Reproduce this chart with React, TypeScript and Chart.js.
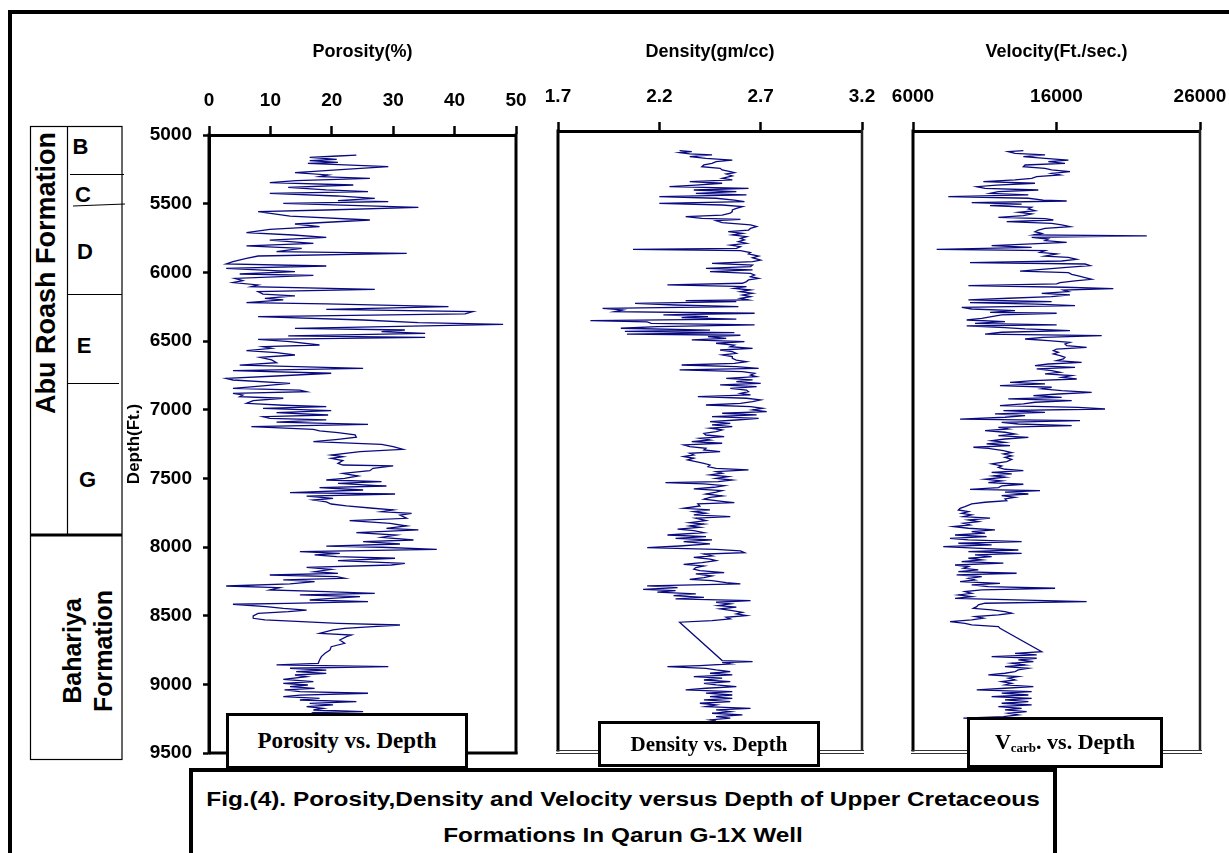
import React, { useEffect, useRef } from 'react';
import { Chart, registerables } from 'chart.js';

Chart.register(...registerables);

const SANS = "'Liberation Sans', Arial, Helvetica, sans-serif";
const SERIF = "'Liberation Serif', 'Times New Roman', Times, serif";

// ---------- axis ticks ----------
const depthTicks = [5000, 5500, 6000, 6500, 7000, 7500, 8000, 8500, 9000, 9500];
const porosityTicks = [0, 10, 20, 30, 40, 50];
const densityTicks = [1.7, 2.2, 2.7, 3.2];
const velocityTicks = [6000, 16000, 26000];

// ---------- porosity log (%) ----------
const porosityDepth = [
  5146, 5153, 5163, 5177, 5187, 5199, 5206, 5231, 5250, 5274,
  5291, 5303, 5316, 5332, 5347, 5364, 5381, 5400, 5413, 5425,
  5444, 5461, 5478, 5485, 5498, 5527, 5546, 5558, 5590, 5619,
  5648, 5667, 5687, 5711, 5728, 5745, 5765, 5789, 5808, 5825,
  5849, 5862, 5881, 5898, 5922, 5939, 5954, 5971, 5995, 6012,
  6022, 6044, 6061, 6075, 6092, 6104, 6124, 6141, 6158, 6172,
  6189, 6201, 6221, 6230, 6250, 6269, 6286, 6303, 6323, 6347,
  6366, 6379, 6408, 6420, 6432, 6444, 6463, 6473, 6488, 6505,
  6529, 6541, 6553, 6570, 6585, 6602, 6619, 6638, 6658, 6675,
  6699, 6716, 6735, 6755, 6772, 6784, 6808, 6828, 6845, 6857,
  6869, 6881, 6893, 6905, 6917, 6934, 6954, 6968, 6978, 6990,
  7007, 7022, 7039, 7051, 7063, 7075, 7090, 7107, 7124, 7143,
  7155, 7167, 7184, 7201, 7216, 7233, 7252, 7269, 7289, 7306,
  7330, 7342, 7354, 7371, 7391, 7403, 7410, 7427, 7444, 7464,
  7483, 7500, 7512, 7524, 7536, 7556, 7568, 7585, 7604, 7614,
  7629, 7646, 7658, 7672, 7687, 7701, 7718, 7730, 7743, 7755,
  7767, 7791, 7808, 7828, 7847, 7864, 7876, 7896, 7913, 7930,
  7949, 7961, 7978, 7993, 8002, 8017, 8034, 8046, 8058, 8070,
  8082, 8099, 8119, 8131, 8148, 8163, 8180, 8192, 8204, 8216,
  8228, 8240, 8252, 8269, 8284, 8296, 8313, 8325, 8337, 8349,
  8362, 8374, 8386, 8398, 8410, 8417, 8434, 8447, 8459, 8471,
  8483, 8502, 8519, 8531, 8544, 8556, 8568, 8580, 8592, 8604,
  8616, 8629, 8641, 8653, 8677, 8701, 8726, 8750, 8774, 8798,
  8823, 8847, 8859, 8871, 8883, 8896, 8908, 8920, 8932, 8944,
  8964, 8980, 8993, 9005, 9017, 9029, 9041, 9053, 9065, 9078,
  9090, 9102, 9114, 9126, 9138, 9150, 9163, 9175, 9187, 9199,
  9206, 9230, 9250,
];
const porosityValue = [
  24.0, 21.0, 16.4, 20.8, 16.4, 21.0, 16.1, 29.2, 22.1, 14.0,
  19.4, 18.0, 26.2, 14.2, 9.9, 23.5, 12.9, 19.1, 25.9, 9.9,
  20.8, 27.0, 21.0, 29.2, 12.1, 34.1, 19.1, 8.0, 13.2, 26.2,
  14.0, 18.0, 9.9, 6.1, 13.7, 19.1, 9.9, 17.0, 6.1, 15.1,
  11.0, 32.2, 8.0, 6.1, 3.9, 2.8, 19.1, 2.8, 14.0, 5.0,
  17.0, 4.2, 5.5, 3.9, 8.0, 6.9, 27.0, 8.0, 8.8, 14.0,
  9.1, 12.1, 6.1, 19.1, 39.0, 19.1, 43.0, 41.7, 8.0, 25.1,
  34.1, 47.9, 14.0, 31.9, 28.1, 35.2, 12.9, 35.2, 8.0, 13.2,
  18.0, 8.8, 10.2, 6.1, 11.0, 14.0, 8.3, 10.2, 11.0, 5.0,
  25.1, 3.9, 19.9, 11.0, 2.8, 3.9, 13.2, 8.3, 3.9, 14.8,
  15.9, 3.9, 5.5, 5.0, 12.1, 7.2, 6.1, 12.1, 19.1, 8.8,
  19.9, 11.0, 19.4, 8.8, 9.9, 19.1, 11.0, 25.9, 6.9, 17.0,
  18.0, 21.0, 23.8, 24.0, 21.0, 17.0, 28.1, 30.0, 31.6, 24.6,
  19.9, 21.8, 19.9, 21.8, 21.0, 21.8, 30.0, 26.7, 26.2, 21.8,
  24.3, 22.1, 19.1, 28.1, 21.0, 28.9, 18.0, 25.1, 13.2, 30.3,
  15.9, 20.2, 17.0, 19.1, 19.9, 22.4, 26.7, 30.0, 28.1, 33.0,
  31.1, 32.2, 22.9, 29.5, 32.2, 28.9, 34.1, 24.0, 30.5, 28.1,
  33.3, 25.1, 31.1, 19.1, 28.1, 37.1, 14.8, 21.3, 17.2, 20.8,
  30.3, 21.0, 31.9, 29.7, 15.9, 19.9, 17.2, 21.0, 9.9, 20.8,
  22.1, 12.1, 17.2, 13.2, 2.8, 11.5, 9.9, 19.1, 27.0, 14.8,
  24.6, 19.9, 16.4, 25.9, 12.9, 3.9, 9.3, 12.1, 15.9, 12.9,
  8.0, 7.2, 7.2, 9.1, 15.1, 21.0, 31.1, 26.7, 22.1, 20.2,
  19.1, 18.0, 23.2, 22.4, 21.3, 22.1, 19.9, 19.7, 18.9, 18.3,
  18.0, 17.8, 11.0, 29.2, 13.2, 19.1, 14.2, 19.1, 14.0, 15.9,
  12.1, 17.0, 12.1, 16.1, 13.2, 17.2, 12.3, 14.8, 25.9, 14.8,
  12.1, 18.0, 14.8, 24.0, 16.4, 20.2, 15.9, 18.6, 17.0, 25.1,
  17.0, 18.0, 20.0,
];

// ---------- bulk density log (gm/cc) ----------
const densityDepth = [
  5143, 5150, 5157, 5167, 5174, 5187, 5199, 5211, 5223, 5235,
  5247, 5259, 5271, 5283, 5296, 5303, 5313, 5327, 5344, 5356,
  5368, 5380, 5393, 5405, 5417, 5429, 5441, 5453, 5465, 5477,
  5489, 5502, 5514, 5526, 5538, 5550, 5562, 5574, 5586, 5598,
  5611, 5623, 5635, 5642, 5652, 5666, 5683, 5695, 5708, 5720,
  5732, 5744, 5756, 5768, 5780, 5792, 5804, 5817, 5829, 5841,
  5853, 5860, 5870, 5884, 5894, 5909, 5921, 5938, 5950, 5962,
  5974, 5986, 5998, 6010, 6023, 6035, 6047, 6059, 6071, 6083,
  6095, 6107, 6119, 6132, 6144, 6156, 6168, 6180, 6192, 6204,
  6216, 6228, 6233, 6241, 6253, 6265, 6277, 6289, 6301, 6313,
  6325, 6337, 6350, 6357, 6367, 6379, 6388, 6398, 6410, 6422,
  6434, 6447, 6456, 6466, 6476, 6485, 6495, 6507, 6519, 6531,
  6543, 6556, 6568, 6580, 6592, 6604, 6616, 6628, 6640, 6653,
  6665, 6677, 6689, 6701, 6713, 6725, 6737, 6749, 6762, 6774,
  6786, 6798, 6810, 6822, 6834, 6846, 6858, 6871, 6883, 6895,
  6907, 6919, 6931, 6943, 6955, 6968, 6980, 6992, 7004, 7016,
  7028, 7040, 7052, 7064, 7077, 7089, 7101, 7113, 7125, 7137,
  7149, 7161, 7173, 7186, 7198, 7210, 7222, 7234, 7246, 7258,
  7270, 7282, 7295, 7307,
  7319, 7331, 7343, 7355, 7367, 7379, 7391, 7403, 7416, 7428,
  7440, 7452, 7464, 7476, 7488, 7500, 7513, 7525, 7537, 7549,
  7556, 7566, 7578, 7590, 7602, 7614, 7626, 7639, 7653, 7663,
  7677, 7694, 7701, 7711, 7726, 7743, 7755, 7767, 7779, 7791,
  7803, 7815, 7832, 7847, 7857, 7871, 7881, 7895, 7905, 7920,
  7937, 7949, 7961, 7973, 7985, 8002, 8017, 8029, 8041, 8053,
  8065, 8075, 8089, 8099, 8113, 8123, 8138, 8150, 8162, 8174,
  8186, 8196, 8210, 8220, 8235, 8247, 8259, 8269, 8283, 8293,
  8307, 8319, 8332, 8341, 8353, 8365, 8378, 8390, 8402, 8414,
  8426, 8438, 8450, 8462, 8474, 8487, 8499, 8511, 8523, 8535,
  8547, 8559, 8571, 8850, 8857, 8865, 8874, 8886, 8894, 8906,
  8918, 8930, 8942, 8954, 8966, 8978, 8991, 9003, 9015, 9027,
  9039, 9051, 9063, 9075, 9087, 9100, 9112, 9124, 9136, 9148,
  9160, 9172, 9184, 9197, 9209, 9221, 9233, 9245, 9257, 9269,
  9281, 9289,
];
const densityValue = [
  2.30, 2.36, 2.30, 2.35, 2.46, 2.35, 2.43, 2.56, 2.48, 2.46,
  2.42, 2.41, 2.50, 2.51, 2.55, 2.57, 2.53, 2.56, 2.51, 2.56,
  2.35, 2.51, 2.38, 2.25, 2.64, 2.37, 2.58, 2.38, 2.63, 2.20,
  2.48, 2.57, 2.62, 2.20, 2.51, 2.61, 2.58, 2.56, 2.56, 2.55,
  2.51, 2.33, 2.41, 2.60, 2.48, 2.51, 2.65, 2.68, 2.65, 2.64,
  2.54, 2.61, 2.56, 2.63, 2.60, 2.62, 2.59, 2.63, 2.55, 2.60,
  2.58, 2.07, 2.60, 2.65, 2.64, 2.69, 2.66, 2.70, 2.66, 2.46,
  2.66, 2.65, 2.43, 2.66, 2.45, 2.65, 2.67, 2.65, 2.69, 2.64,
  2.63, 2.61, 2.24, 2.63, 2.57, 2.65, 2.60, 2.66, 2.61, 2.65,
  2.60, 2.64, 2.33, 2.58, 2.08, 2.28, 2.59, 1.92, 2.02, 1.98,
  2.67, 2.22, 2.44, 2.31, 2.58, 1.86, 2.14, 2.16, 2.67, 2.19,
  2.01, 2.45, 2.03, 2.57, 2.04, 2.60, 2.44, 2.53, 2.36, 2.62,
  2.48, 2.57, 2.55, 2.66, 2.50, 2.56, 2.58, 2.51, 2.56, 2.56,
  2.58, 2.63, 2.57, 2.31, 2.58, 2.69, 2.30, 2.61, 2.67, 2.65,
  2.68, 2.53, 2.66, 2.58, 2.70, 2.50, 2.68, 2.55, 2.63, 2.64,
  2.60, 2.65, 2.39, 2.63, 2.70, 2.66, 2.60, 2.43, 2.65, 2.71,
  2.66, 2.73, 2.51, 2.68, 2.46, 2.69, 2.58, 2.45, 2.55, 2.46,
  2.56, 2.45, 2.51, 2.48, 2.42, 2.43, 2.52, 2.40, 2.45, 2.36,
  2.51, 2.32, 2.35, 2.43,
  2.42, 2.50, 2.35, 2.37, 2.32, 2.37, 2.34, 2.38, 2.42, 2.45,
  2.44, 2.48, 2.64, 2.48, 2.51, 2.45, 2.54, 2.48, 2.56, 2.49,
  2.23, 2.42, 2.52, 2.47, 2.37, 2.51, 2.48, 2.43, 2.51, 2.45,
  2.42, 2.52, 2.57, 2.39, 2.40, 2.32, 2.45, 2.37, 2.43, 2.37,
  2.55, 2.38, 2.43, 2.35, 2.42, 2.35, 2.40, 2.29, 2.37, 2.42,
  2.24, 2.43, 2.28, 2.46, 2.32, 2.45, 2.30, 2.14, 2.48, 2.60,
  2.62, 2.42, 2.46, 2.37, 2.45, 2.48, 2.41, 2.32, 2.42, 2.38,
  2.37, 2.40, 2.52, 2.38, 2.46, 2.42, 2.35, 2.46, 2.53, 2.60,
  2.14, 2.29, 2.12, 2.28, 2.19, 2.38, 2.27, 2.42, 2.28, 2.65,
  2.48, 2.55, 2.49, 2.58, 2.50, 2.56, 2.61, 2.58, 2.63, 2.53,
  2.55, 2.46, 2.30, 2.51, 2.66, 2.51, 2.55, 2.40, 2.24, 2.43,
  2.48, 2.55, 2.45, 2.56, 2.37, 2.51, 2.42, 2.55, 2.42, 2.48,
  2.58, 2.43, 2.33, 2.56, 2.43, 2.56, 2.45, 2.56, 2.42, 2.55,
  2.40, 2.48, 2.43, 2.65, 2.48, 2.55, 2.46, 2.61, 2.48, 2.55,
  2.45, 2.48,
];

// ---------- carbonate velocity log (ft/sec) ----------
const velocityDepth = [
  5143, 5150, 5162, 5174, 5187, 5199, 5211, 5223, 5235, 5247,
  5259, 5271, 5283, 5296, 5308, 5320, 5332, 5344, 5356, 5368,
  5380, 5393, 5405, 5417, 5429, 5441, 5453, 5465, 5477, 5489,
  5502, 5509, 5521, 5531, 5543, 5555, 5567, 5579, 5591, 5603,
  5615, 5628, 5637, 5647, 5659, 5671, 5683, 5695, 5708, 5720,
  5732, 5744, 5756, 5763, 5773, 5785, 5797, 5809, 5821, 5834,
  5846, 5860, 5870, 5882, 5894, 5909, 5918, 5933, 5945, 5957,
  5967, 5979, 5991, 6006, 6018, 6030, 6042, 6054, 6066, 6078,
  6090, 6102, 6112, 6124, 6136, 6146, 6156, 6168, 6180, 6192,
  6204, 6216, 6228, 6241, 6248, 6258, 6270, 6282, 6294, 6306,
  6318, 6325, 6337, 6350, 6362, 6374, 6386, 6398, 6410, 6417,
  6430, 6439, 6451, 6463, 6476, 6488, 6500, 6512, 6524, 6536,
  6548, 6560, 6573, 6585, 6597, 6609, 6621, 6633, 6645, 6657,
  6669, 6682, 6694, 6706, 6718, 6730, 6742, 6754, 6766, 6778,
  6791, 6803, 6815, 6827, 6839, 6851, 6863, 6875, 6888, 6900,
  6912, 6924, 6936, 6948, 6960, 6972, 6984, 6997, 7009, 7021,
  7033, 7045, 7057, 7069, 7081, 7094, 7106, 7118, 7130, 7142,
  7154, 7166, 7178, 7190, 7203, 7215, 7227, 7239, 7251, 7263,
  7275, 7287, 7299, 7307,
  7324, 7338, 7348, 7362, 7372, 7387, 7403, 7420, 7435, 7445,
  7459, 7469, 7481, 7493, 7508, 7517, 7532, 7544, 7556, 7568,
  7580, 7592, 7605, 7614, 7626, 7639, 7651, 7663, 7675, 7687,
  7699, 7711, 7731, 7743, 7755, 7767, 7779, 7791, 7803, 7815,
  7828, 7840, 7852, 7864, 7876, 7888, 7900, 7912, 7924, 7937,
  7949, 7961, 7973, 7985, 7997, 8009, 8021, 8033, 8046, 8058,
  8070, 8082, 8094, 8106, 8118, 8130, 8142, 8155, 8167, 8179,
  8191, 8203, 8215, 8227, 8239, 8252, 8264, 8276, 8288, 8300,
  8312, 8324, 8336, 8348, 8361, 8373, 8385, 8397, 8409, 8421,
  8433, 8445, 8458, 8470, 8482, 8494, 8506, 8518, 8530, 8542,
  8554, 8567, 8579, 8591, 8603, 8615, 8785, 8797, 8809, 8821,
  8833, 8845, 8857, 8869, 8882, 8894, 8906, 8918, 8930, 8942,
  8954, 8966, 8978, 8991, 9003, 9015, 9027, 9039, 9051, 9063,
  9075, 9087, 9100, 9112, 9124, 9136, 9148, 9160, 9172, 9184,
  9197, 9209, 9221, 9233, 9245, 9257, 9269, 9276,
];
const velocityValue = [
  13690, 12640, 13110, 15200, 13690, 15200, 16830, 15430, 16590, 13810,
  13690, 15200, 15660, 16940, 15660, 16250, 14620, 14270, 13110, 10900,
  14500, 11830, 10440, 11020, 14730, 11950, 11370, 14040, 8460, 14040,
  15080, 16710, 10090, 13570, 11370, 14270, 14040, 14500, 13340, 14270,
  13690, 11950, 15200, 15780, 12530, 15660, 16360, 16940, 15200, 14730,
  14500, 14970, 14390, 22290, 14270, 15430, 15200, 16710, 14270, 11480,
  14270, 7650, 15200, 14850, 16010, 15200, 16830, 17410, 16360, 9970,
  17990, 18340, 16710, 14970, 13460, 16830, 17060, 17520, 17990, 18450,
  17290, 16250, 16010, 9860, 16590, 19960, 16480, 16830, 14970, 16940,
  15660, 12640, 9860, 15660, 9970, 14620, 17290, 9400, 10090, 13110,
  11370, 16010, 12180, 11480, 10790, 9740, 12410, 10320, 16010, 9740,
  12410, 13810, 16940, 12180, 11020, 19150, 15080, 13810, 15430, 16940,
  16590, 16710, 18100, 16010, 15780, 16130, 15780, 16250, 16590, 16480,
  16010, 17750, 15430, 14500, 17290, 14620, 15660, 16250, 15200, 17060,
  16360, 17410, 14390, 12760, 15200, 12060, 15660, 14970, 16360, 18450,
  16130, 14390, 16360, 12640, 17060, 14500, 13690, 12060, 17520, 19380,
  12300, 15200, 11710, 13810, 12410, 9280, 17640, 12180, 13340, 17060,
  11950, 12640, 11020, 12410, 13110, 11950, 14040, 12410, 11480, 12410,
  11130, 12760, 10210, 11250,
  12300, 12880, 12300, 12880, 12410, 12880, 12530, 11480, 12180, 11950,
  12410, 13690, 11480, 12880, 11600, 12410, 11020, 12180, 11250, 13690,
  12180, 11950, 9970, 14850, 12410, 14040, 12180, 13110, 12410, 12530,
  11020, 10090, 9620, 9280, 9160, 9860, 9390, 10090, 9510, 11370,
  9860, 10550, 9510, 9970, 8810, 9860, 11710, 10090, 11020, 8930,
  11130, 8580, 9860, 13570, 9160, 11480, 8110, 10320, 13340, 9860,
  13570, 10320, 11480, 9860, 10790, 9390, 12300, 8930, 9860, 9510,
  10550, 9160, 13220, 9040, 10790, 9860, 10320, 9280, 12060, 10090,
  11250, 15900, 10790, 9620, 10090, 9160, 10090, 8930, 13110, 18100,
  11020, 10550, 10440, 10200, 11480, 12410, 12880, 11950, 10320, 10900,
  10090, 8580, 9620, 10090, 11950, 12060, 14970, 13110, 14620, 11480,
  14620, 13340, 14390, 12880, 13810, 12410, 14040, 13340, 13110, 12410,
  11250, 13340, 12640, 13110, 12180, 12880, 12410, 14390, 12410, 10440,
  14270, 12180, 14040, 11480, 14270, 12410, 14040, 12180, 14270, 11950,
  13570, 12410, 13920, 12640, 13340, 12300, 9510, 12410,
];

// ---------- chart frame plugin ----------
const framePlugin = {
  id: 'logFrame',
  afterDraw(chart: any, _args: any, opts: any) {
    const { ctx, chartArea: a } = chart;
    ctx.save();
    ctx.lineCap = 'butt';
    ctx.strokeStyle = '#000';
    ctx.lineWidth = 3;
    ctx.beginPath();
    ctx.moveTo(a.left, a.top - 1.5);
    ctx.lineTo(a.left, a.bottom + 1.5);
    ctx.stroke();
    ctx.strokeStyle = opts.rightColor || '#000';
    ctx.lineWidth = opts.rightWidth || 3;
    ctx.beginPath();
    ctx.moveTo(a.right, a.top - 1.5);
    ctx.lineTo(a.right, a.bottom + 1);
    ctx.stroke();
    if (opts.bottom === 'solid') {
      ctx.strokeStyle = '#000';
      ctx.lineWidth = 3;
      ctx.beginPath();
      ctx.moveTo(a.left, a.bottom);
      ctx.lineTo(a.right + 1.5, a.bottom);
      ctx.stroke();
    } else {
      ctx.strokeStyle = '#333';
      ctx.lineWidth = 1;
      ctx.beginPath();
      ctx.moveTo(a.left - 2, a.bottom + 0.5);
      ctx.lineTo(a.right + 2, a.bottom + 0.5);
      ctx.moveTo(a.left - 2, a.bottom + 3.5);
      ctx.lineTo(a.right + 2, a.bottom + 3.5);
      ctx.stroke();
    }
    ctx.restore();
  },
};

type Box = { left: number; top: number; width: number; height: number };
type Area = { left: number; top: number; right: number; bottom: number };

type PanelProps = {
  depth: number[];
  values: number[];
  xMin: number;
  xMax: number;
  xTicks: number[];
  fmt: (v: number) => string;
  title: string;
  box: Box;
  area: Area;
  depthAxis: boolean;
  bottom: 'solid' | 'double';
  rightColor?: string;
  rightWidth?: number;
};

function LogPanel(p: PanelProps) {
  const ref = useRef<HTMLCanvasElement | null>(null);
  useEffect(() => {
    if (!ref.current) return;
    const points = p.depth.map((d, i) => ({ x: p.values[i], y: d }));
    const xScaleHeight = p.area.top - p.box.top;
    const yScaleWidth = p.area.left - p.box.left;
    const padLeft = p.depthAxis ? 0 : yScaleWidth;
    const padRight = p.box.left + p.box.width - p.area.right;
    const padBottom = p.box.top + p.box.height - p.area.bottom;
    const yScale: any = {
      type: 'linear',
      reverse: true,
      min: 5000,
      max: 9500,
      display: p.depthAxis,
      afterBuildTicks: (s: any) => {
        s.ticks = depthTicks.map((v) => ({ value: v }));
      },
      ticks: {
        callback: (v: any) => String(v),
        color: '#000',
        font: { family: SANS, size: 19, weight: 'bold' },
        padding: 11,
        autoSkip: false,
      },
      grid: {
        drawOnChartArea: false,
        drawTicks: true,
        tickLength: 6,
        tickWidth: 2.5,
        color: '#000',
      },
      border: { display: true, width: 3, color: '#000' },
      title: {
        display: true,
        text: 'Depth(Ft.)',
        color: '#000',
        font: { family: SANS, size: 17, weight: 'bold' },
        padding: { top: 0, bottom: 0 },
      },
    };
    if (p.depthAxis) {
      yScale.afterFit = (s: any) => {
        s.width = yScaleWidth;
      };
    }
    const chart = new Chart(ref.current, {
      type: 'scatter',
      data: {
        datasets: [
          {
            data: points,
            showLine: true,
            borderColor: '#0a0a80',
            borderWidth: 1.3,
            pointRadius: 0,
            pointHoverRadius: 0,
            fill: false,
            tension: 0,
          },
        ],
      },
      options: {
        animation: false,
        responsive: false,
        maintainAspectRatio: false,
        devicePixelRatio: 1,
        events: [],
        layout: { padding: { left: padLeft, right: padRight, top: 0, bottom: padBottom } },
        plugins: {
          legend: { display: false },
          tooltip: { enabled: false },
          logFrame: { bottom: p.bottom, rightColor: p.rightColor, rightWidth: p.rightWidth },
        } as any,
        scales: {
          x: {
            type: 'linear',
            position: 'top',
            min: p.xMin,
            max: p.xMax,
            afterBuildTicks: (s: any) => {
              s.ticks = p.xTicks.map((v) => ({ value: v }));
            },
            afterFit: (s: any) => {
              s.height = xScaleHeight;
            },
            ticks: {
              callback: (v: any) => p.fmt(Number(v)),
              color: '#000',
              font: { family: SANS, size: 19, weight: 'bold' },
              padding: 14,
              maxRotation: 0,
              minRotation: 0,
              autoSkip: false,
            },
            grid: {
              drawOnChartArea: false,
              drawTicks: true,
              tickLength: 9,
              tickWidth: 2.5,
              color: '#000',
            },
            border: { display: true, width: 3, color: '#000' },
            title: {
              display: true,
              text: p.title,
              color: '#000',
              font: { family: SANS, size: 18, weight: 'bold' },
              padding: { top: 4, bottom: 0 },
            },
          },
          y: yScale,
        },
      } as any,
      plugins: [framePlugin as any],
    });
    return () => chart.destroy();
  }, []);
  return (
    <canvas
      ref={ref}
      width={p.box.width}
      height={p.box.height}
      style={{
        position: 'absolute',
        left: p.box.left,
        top: p.box.top,
        width: p.box.width,
        height: p.box.height,
      }}
    />
  );
}

const abs = (s: React.CSSProperties): React.CSSProperties => ({ position: 'absolute', ...s });

function Centered({ x, y, children, style }: { x: number; y: number; children: React.ReactNode; style?: React.CSSProperties }) {
  return (
    <div
      style={abs({
        left: x,
        top: y,
        transform: 'translate(-50%, -50%)',
        whiteSpace: 'nowrap',
        fontFamily: SANS,
        fontWeight: 'bold',
        color: '#000',
        lineHeight: 1,
        ...style,
      })}
    >
      {children}
    </div>
  );
}

function Rotated({ x, y, children, size, lineHeight }: { x: number; y: number; children: React.ReactNode; size: number; lineHeight?: number }) {
  return (
    <div
      style={abs({
        left: x,
        top: y,
        transform: 'translate(-50%, -50%) rotate(-90deg)',
        whiteSpace: 'nowrap',
        fontFamily: SANS,
        fontWeight: 'bold',
        fontSize: size,
        lineHeight: lineHeight ? `${lineHeight}px` : 1,
        textAlign: 'center',
        color: '#000',
      })}
    >
      {children}
    </div>
  );
}

function LabelBox({ left, top, width, height, children, size }: { left: number; top: number; width: number; height: number; children: React.ReactNode; size: number }) {
  return (
    <div
      style={abs({
        left,
        top,
        width,
        height,
        boxSizing: 'border-box',
        border: '3px solid #000',
        background: '#fff',
        display: 'flex',
        alignItems: 'center',
        justifyContent: 'center',
        fontFamily: SERIF,
        fontWeight: 'bold',
        fontSize: size,
        color: '#000',
        zIndex: 3,
        whiteSpace: 'nowrap',
      })}
    >
      {children}
    </div>
  );
}

export default function App() {
  return (
    <div
      style={{
        position: 'absolute',
        left: 0,
        top: 0,
        width: 1229,
        height: 853,
        overflow: 'hidden',
        background: '#fff',
      }}
    >
      {/* outer frame (left + top) */}
      <div style={abs({ left: 8, top: 10, width: 1240, height: 900, borderLeft: '4px solid #000', borderTop: '4px solid #000' })} />

      {/* formation column */}
      <svg width={140} height={780} style={abs({ left: 0, top: 0 })}>
        <rect x={30.5} y={126.5} width={91.5} height={633} fill="none" stroke="#000" strokeWidth={1.2} />
        <line x1={67.5} y1={126} x2={67.5} y2={534} stroke="#000" strokeWidth={1.2} />
        <line x1={70} y1={174.5} x2={124} y2={174.5} stroke="#000" strokeWidth={1.2} />
        <line x1={73} y1={206} x2={125} y2={204} stroke="#000" strokeWidth={1.2} />
        <line x1={68} y1={294.5} x2={122} y2={294.5} stroke="#000" strokeWidth={1.2} />
        <line x1={68} y1={383.5} x2={119} y2={383.5} stroke="#000" strokeWidth={1.2} />
        <line x1={30} y1={535} x2={122} y2={535} stroke="#000" strokeWidth={3} />
      </svg>
      <Centered x={80.5} y={147} style={{ fontSize: 22 }}>B</Centered>
      <Centered x={83} y={195} style={{ fontSize: 22 }}>C</Centered>
      <Centered x={85} y={252} style={{ fontSize: 22 }}>D</Centered>
      <Centered x={84} y={346} style={{ fontSize: 22 }}>E</Centered>
      <Centered x={87.5} y={480} style={{ fontSize: 22 }}>G</Centered>
      <Rotated x={46} y={273} size={27}>Abu Roash Formation</Rotated>
      <Rotated x={88} y={651} size={25} lineHeight={31}>
        Bahariya
        <br />
        Formation
      </Rotated>

      {/* log panels */}
      <LogPanel
        depth={porosityDepth}
        values={porosityValue}
        xMin={0}
        xMax={50}
        xTicks={porosityTicks}
        fmt={(v) => String(v)}
        title="Porosity(%)"
        box={{ left: 124, top: 37, width: 422, height: 742 }}
        area={{ left: 209, top: 135, right: 516, bottom: 753 }}
        depthAxis={true}
        bottom="solid"
      />
      <LogPanel
        depth={densityDepth}
        values={densityValue}
        xMin={1.7}
        xMax={3.2}
        xTicks={densityTicks}
        fmt={(v) => v.toFixed(1)}
        title="Density(gm/cc)"
        box={{ left: 512, top: 37, width: 396, height: 730 }}
        area={{ left: 558, top: 131, right: 862, bottom: 750 }}
        depthAxis={false}
        bottom="double"
        rightColor="#222"
        rightWidth={2.5}
      />
      <LogPanel
        depth={velocityDepth}
        values={velocityValue}
        xMin={6000}
        xMax={26000}
        xTicks={velocityTicks}
        fmt={(v) => String(v)}
        title="Velocity(Ft./sec.)"
        box={{ left: 867, top: 37, width: 380, height: 730 }}
        area={{ left: 913, top: 131, right: 1200, bottom: 750 }}
        depthAxis={false}
        bottom="double"
        rightColor="#222"
        rightWidth={2.5}
      />

      {/* panel captions */}
      <LabelBox left={226} top={713} width={242} height={56} size={23}>
        Porosity vs. Depth
      </LabelBox>
      <LabelBox left={598} top={721} width={222} height={46} size={21}>
        Density vs. Depth
      </LabelBox>
      <LabelBox left={967} top={717} width={196} height={51} size={22}>
        <span>
          V<sub style={{ fontSize: 13, verticalAlign: '-3px' }}>carb</sub>. vs. Depth
        </span>
      </LabelBox>

      {/* figure caption */}
      <div
        style={abs({
          left: 189,
          top: 768,
          width: 868,
          height: 120,
          boxSizing: 'border-box',
          border: '4px solid #000',
          background: '#fff',
          zIndex: 4,
        })}
      />
      <Centered x={623} y={798} style={{ fontSize: 21, zIndex: 5, transform: 'translate(-50%, -50%) scaleX(1.16)' }}>
        Fig.(4). Porosity,Density and Velocity versus Depth of Upper Cretaceous
      </Centered>
      <Centered x={623} y={834} style={{ fontSize: 21, zIndex: 5, transform: 'translate(-50%, -50%) scaleX(1.16)' }}>
        Formations In Qarun G-1X Well
      </Centered>
    </div>
  );
}
